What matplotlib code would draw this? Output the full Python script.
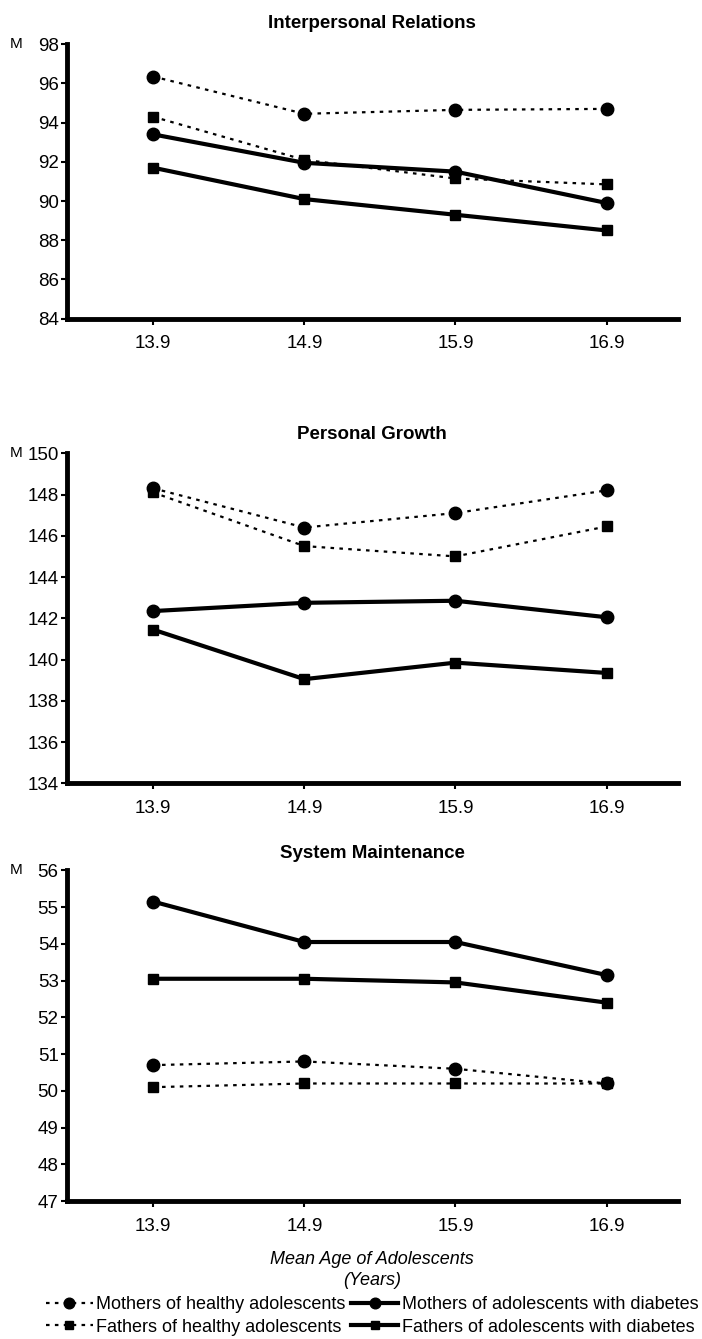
import matplotlib
matplotlib.use("Agg")
import matplotlib.pyplot as plt

plt.rcParams['font.family'] = ['Liberation Sans', 'DejaVu Sans']

ages = [13.9, 14.9, 15.9, 16.9]
age_labels = ["13.9", "14.9", "15.9", "16.9"]

# Interpersonal Relations
ir_moth_healthy = [96.35, 94.45, 94.65, 94.7]
ir_fath_healthy = [94.3, 92.1, 91.15, 90.85]
ir_moth_diab = [93.4, 91.95, 91.5, 89.9]
ir_fath_diab = [91.7, 90.1, 89.3, 88.5]

# Personal Growth
pg_moth_healthy = [148.3, 146.4, 147.1, 148.2]
pg_fath_healthy = [148.1, 145.5, 145.0, 146.45]
pg_moth_diab = [142.35, 142.75, 142.85, 142.05]
pg_fath_diab = [141.45, 139.05, 139.85, 139.35]

# System Maintenance
sm_moth_healthy = [50.7, 50.8, 50.6, 50.2]
sm_fath_healthy = [50.1, 50.2, 50.2, 50.2]
sm_moth_diab = [55.15, 54.05, 54.05, 53.15]
sm_fath_diab = [53.05, 53.05, 52.95, 52.4]

labels = ["Mothers of healthy adolescents", "Fathers of healthy adolescents",
          "Mothers of adolescents with diabetes", "Fathers of adolescents with diabetes"]

# title, series, y-limits, y-ticks, axes rect, title pad
panels = [
    ("Interpersonal Relations", ir_moth_healthy, ir_fath_healthy, ir_moth_diab, ir_fath_diab,
     (84, 98), list(range(84, 99, 2)), [0.0954, 0.762, 0.87, 0.205], 12),
    ("Personal Growth", pg_moth_healthy, pg_fath_healthy, pg_moth_diab, pg_fath_diab,
     (134, 150), list(range(134, 151, 2)), [0.0954, 0.415, 0.87, 0.2465], 10),
    ("System Maintenance", sm_moth_healthy, sm_fath_healthy, sm_moth_diab, sm_fath_diab,
     (47, 56), list(range(47, 57)), [0.0954, 0.103, 0.87, 0.247], 9),
]

dot = (0, (1.6, 2.4))
fig = plt.figure(figsize=(7.02, 13.39), dpi=100)
handles = []
for title, mh, fh, md, fd, ylim, yt, rect, tpad in panels:
    ax = fig.add_axes(rect)
    h1, = ax.plot(ages, mh, color='black', lw=1.6, ls=dot, marker='o', ms=9)
    h2, = ax.plot(ages, fh, color='black', lw=1.6, ls=dot, marker='s', ms=7.5)
    h3, = ax.plot(ages, md, color='black', lw=3, ls='-', marker='o', ms=9)
    h4, = ax.plot(ages, fd, color='black', lw=3, ls='-', marker='s', ms=7.5)
    handles = [h1, h2, h3, h4]
    ax.set_xlim(13.33, 17.37)
    ax.set_ylim(*ylim)
    ax.set_yticks(yt)
    ax.set_xticks(ages)
    ax.set_xticklabels(age_labels)
    ax.spines['top'].set_visible(False)
    ax.spines['right'].set_visible(False)
    ax.spines['left'].set_linewidth(3.5)
    ax.spines['bottom'].set_linewidth(3.5)
    ax.tick_params(axis='both', labelsize=13.5, width=1.5, length=4, colors='black')
    ax.tick_params(axis='x', pad=8)
    ax.tick_params(axis='y', pad=2)
    ax.set_title(title, fontsize=13.5, fontweight='bold', pad=tpad)
    fig.text(0.014, rect[1] + rect[3], "M", fontsize=11, ha='left', va='center')
    for ln in handles:
        ln.set_clip_on(False)

ax.set_xlabel("Mean Age of Adolescents\n(Years)", fontsize=13, style='italic',
              labelpad=12, linespacing=1.3)

fig.legend(handles, labels, loc='lower center', bbox_to_anchor=(0.53, -0.003), ncol=2,
           frameon=False, fontsize=13, handlelength=2.6, handletextpad=0.2,
           columnspacing=0.3, labelspacing=0.3, markerscale=0.85, borderaxespad=0.0)

fig.savefig("out.png", dpi=100)
